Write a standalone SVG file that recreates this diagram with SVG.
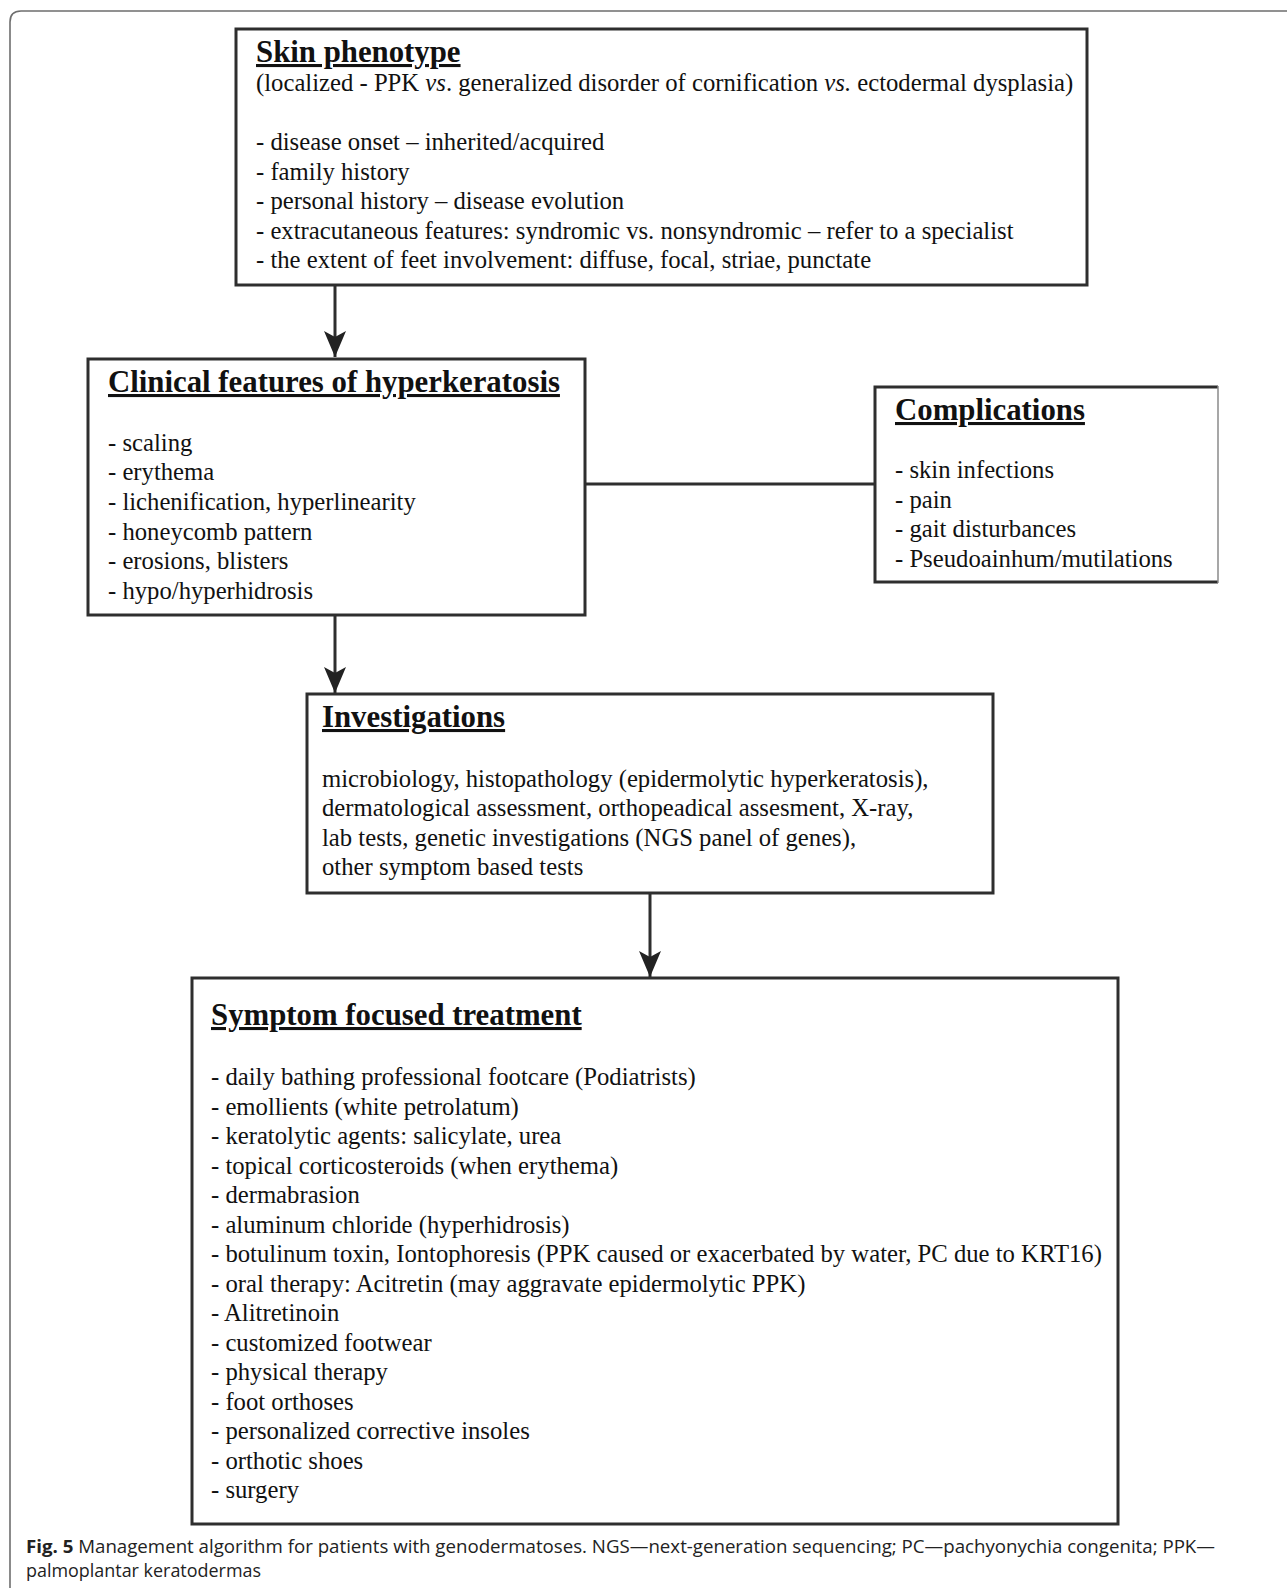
<svg xmlns="http://www.w3.org/2000/svg" width="1287" height="1588" viewBox="0 0 1287 1588">
<style>
.box{fill:#fff;stroke:#2e2e2e;stroke-width:3}
.t{font-family:"Liberation Serif","Times New Roman",serif;font-size:24.7px;fill:#111}
.h{font-family:"Liberation Serif","Times New Roman",serif;font-size:30.8px;font-weight:bold;fill:#111;text-decoration:underline}
.conn{stroke:#2e2e2e;stroke-width:3;fill:none}
.cap{font-family:"Open Sans","Noto Sans",sans-serif;font-size:18.5px;fill:#222}
</style>
<defs>
<marker id="arr" markerWidth="22" markerHeight="26" refX="11" refY="26" orient="0" markerUnits="userSpaceOnUse" viewBox="0 0 22 26">
<path d="M0,0 L11,6 L22,0 L11,26 Z" fill="#222"/>
</marker>
</defs>
<rect width="1287" height="1588" fill="#fff"/>
<path d="M10,1588 V22 Q10,11 21,11 H1287" fill="none" stroke="#6e6e6e" stroke-width="1.6"/>

<g id="connectors">
<line class="conn" x1="335" y1="286" x2="335" y2="357" marker-end="url(#arr)"/>
<line class="conn" x1="335" y1="616" x2="335" y2="693" marker-end="url(#arr)"/>
<line class="conn" x1="650" y1="894" x2="650" y2="977" marker-end="url(#arr)"/>
<line class="conn" x1="585" y1="484" x2="875" y2="484"/>
</g>

<g id="skin-phenotype">
<rect class="box" x="236" y="29" width="851" height="256"/>
<text class="h" x="256" y="62">Skin phenotype</text>
<text class="t" x="256" y="91">(localized - PPK <tspan font-style="italic">vs</tspan>. generalized disorder of cornification <tspan font-style="italic">vs.</tspan> ectodermal dysplasia)</text>
<text class="t" x="256" y="150">- disease onset – inherited/acquired</text>
<text class="t" x="256" y="180">- family history</text>
<text class="t" x="256" y="209">- personal history – disease evolution</text>
<text class="t" x="256" y="239">- extracutaneous features: syndromic vs. nonsyndromic – refer to a specialist</text>
<text class="t" x="256" y="268">- the extent of feet involvement: diffuse, focal, striae, punctate</text>
</g>

<g id="clinical-features">
<rect class="box" x="88" y="359" width="497" height="256"/>
<text class="h" x="108" y="392">Clinical features of hyperkeratosis</text>
<text class="t" x="108" y="451">- scaling</text>
<text class="t" x="108" y="480">- erythema</text>
<text class="t" x="108" y="510">- lichenification, hyperlinearity</text>
<text class="t" x="108" y="540">- honeycomb pattern</text>
<text class="t" x="108" y="569">- erosions, blisters</text>
<text class="t" x="108" y="599">- hypo/hyperhidrosis</text>
</g>

<g id="complications">
<path d="M1218,387 H875 V582 H1218" fill="#fff" stroke="#2e2e2e" stroke-width="3"/>
<line x1="1218" y1="386" x2="1218" y2="583" stroke="#8a8a8a" stroke-width="1.5"/>
<text class="h" x="895" y="420">Complications</text>
<text class="t" x="895" y="478">- skin infections</text>
<text class="t" x="895" y="508">- pain</text>
<text class="t" x="895" y="537">- gait disturbances</text>
<text class="t" x="895" y="567">- Pseudoainhum/mutilations</text>
</g>

<g id="investigations">
<rect class="box" x="307" y="694" width="686" height="199"/>
<text class="h" x="322" y="727">Investigations</text>
<text class="t" x="322" y="787">microbiology, histopathology (epidermolytic hyperkeratosis),</text>
<text class="t" x="322" y="816">dermatological assessment, orthopeadical assesment, X-ray,</text>
<text class="t" x="322" y="846">lab tests, genetic investigations (NGS panel of genes),</text>
<text class="t" x="322" y="875">other symptom based tests</text>
</g>

<g id="treatment">
<rect class="box" x="192" y="978" width="926" height="546"/>
<text class="h" x="211" y="1025">Symptom focused treatment</text>
<text class="t" x="211" y="1085">- daily bathing professional footcare (Podiatrists)</text>
<text class="t" x="211" y="1114.5">- emollients (white petrolatum)</text>
<text class="t" x="211" y="1144">- keratolytic agents: salicylate, urea</text>
<text class="t" x="211" y="1173.5">- topical corticosteroids (when erythema)</text>
<text class="t" x="211" y="1203">- dermabrasion</text>
<text class="t" x="211" y="1232.5">- aluminum chloride (hyperhidrosis)</text>
<text class="t" x="211" y="1262">- botulinum toxin, Iontophoresis (PPK caused or exacerbated by water, PC due to KRT16)</text>
<text class="t" x="211" y="1291.5">- oral therapy: Acitretin (may aggravate epidermolytic PPK)</text>
<text class="t" x="211" y="1321">- Alitretinoin</text>
<text class="t" x="211" y="1350.5">- customized footwear</text>
<text class="t" x="211" y="1380">- physical therapy</text>
<text class="t" x="211" y="1409.5">- foot orthoses</text>
<text class="t" x="211" y="1439">- personalized corrective insoles</text>
<text class="t" x="211" y="1468.5">- orthotic shoes</text>
<text class="t" x="211" y="1498">- surgery</text>
</g>

<g id="caption">
<text class="cap" x="26" y="1553" textLength="1189" lengthAdjust="spacingAndGlyphs"><tspan font-weight="bold">Fig. 5</tspan>  Management algorithm for patients with genodermatoses. NGS—next-generation sequencing; PC—pachyonychia congenita; PPK—</text>
<text class="cap" x="26" y="1577" textLength="235" lengthAdjust="spacingAndGlyphs">palmoplantar keratodermas</text>
</g>
</svg>
